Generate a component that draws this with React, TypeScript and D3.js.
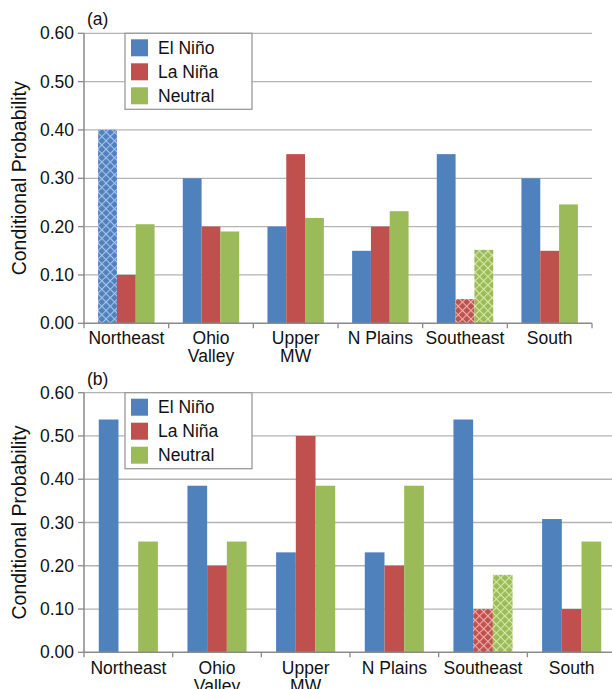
import React from "react";
import * as d3 from "d3";

const categories = ["Northeast", "Ohio Valley", "Upper MW", "N Plains", "Southeast", "South"];
const categoryLines = [["Northeast"], ["Ohio", "Valley"], ["Upper", "MW"], ["N Plains"], ["Southeast"], ["South"]];
const seriesNames = ["El Niño", "La Niña", "Neutral"];
const seriesColors = ["#4F81BD", "#C0504D", "#9BBB59"];
const seriesLight = ["#a9c2ea", "#eeb0ae", "#d6e8a8"];

const elNinoA = [0.40, 0.30, 0.20, 0.15, 0.35, 0.30];
const laNinaA = [0.10, 0.20, 0.35, 0.20, 0.05, 0.15];
const neutralA = [0.205, 0.19, 0.218, 0.232, 0.152, 0.246];
const hatchedA = [[true, false, false, false, false, false], [false, false, false, false, true, false], [false, false, false, false, true, false]];

const elNinoB = [0.538, 0.385, 0.231, 0.231, 0.538, 0.308];
const laNinaB = [0.0, 0.20, 0.50, 0.20, 0.10, 0.10];
const neutralB = [0.256, 0.256, 0.385, 0.385, 0.179, 0.256];
const hatchedB = [[false, false, false, false, false, false], [false, false, false, false, true, false], [false, false, false, false, true, false]];

const yTicks = [0, 0.1, 0.2, 0.3, 0.4, 0.5, 0.6];

type PanelProps = {
  label: string;
  series: number[][];
  hatched: boolean[][];
  x0: number;
  x1: number;
  yTop: number;
  yBottom: number;
  labelY: number;
};

const font = "'Liberation Sans', Arial, sans-serif";

function Panel({ label, series, hatched, x0, x1, yTop, yBottom, labelY }: PanelProps) {
  const y = d3.scaleLinear().domain([0, 0.6]).range([yBottom, yTop]);
  const xCat = d3.scaleBand<string>().domain(categories).range([x0, x1]).padding(0);
  const xSer = d3
    .scaleBand<string>()
    .domain(seriesNames)
    .range([0, xCat.bandwidth()])
    .paddingInner(0)
    .paddingOuter(0.75);
  return (
    <g>
      {yTicks.slice(1).map((t) => (
        <line key={"g" + t} x1={x0} x2={x1} y1={y(t)} y2={y(t)} stroke="#b4b4b4" strokeWidth={1.3} />
      ))}
      {series.map((vals, si) =>
        vals.map((v, ci) => {
          const bx = (xCat(categories[ci]) as number) + (xSer(seriesNames[si]) as number);
          const fill = hatched[si][ci] ? `url(#hatch${si})` : seriesColors[si];
          return (
            <rect
              key={`b${si}-${ci}`}
              x={bx}
              y={y(v)}
              width={xSer.bandwidth()}
              height={yBottom - y(v)}
              fill={fill}
            />
          );
        })
      )}
      <line x1={x0} x2={x0} y1={yTop} y2={yBottom} stroke="#8a8a8a" strokeWidth={1.5} />
      {yTicks.map((t) => (
        <g key={"t" + t}>
          <line x1={x0 - 6} x2={x0} y1={y(t)} y2={y(t)} stroke="#8a8a8a" strokeWidth={1.3} />
          <text x={x0 - 10} y={y(t) + 6} textAnchor="end" fontFamily={font} fontSize={17.5} fill="#111">
            {t.toFixed(2)}
          </text>
        </g>
      ))}
      <line x1={x0} x2={x1} y1={yBottom} y2={yBottom} stroke="#8a8a8a" strokeWidth={1.5} />
      {categories.map((c) => (
        <line
          key={"xt" + c}
          x1={xCat(c) as number}
          x2={xCat(c) as number}
          y1={yBottom}
          y2={yBottom + 5}
          stroke="#8a8a8a"
          strokeWidth={1.3}
        />
      ))}
      <line x1={x1} x2={x1} y1={yBottom} y2={yBottom + 5} stroke="#8a8a8a" strokeWidth={1.3} />
      {categoryLines.map((lines, i) => (
        <text
          key={"xl" + i}
          x={(xCat(categories[i]) as number) + xCat.bandwidth() / 2}
          y={labelY}
          textAnchor="middle"
          fontFamily={font}
          fontSize={17.5}
          fill="#111"
        >
          {lines.map((ln, j) => (
            <tspan key={j} x={(xCat(categories[i]) as number) + xCat.bandwidth() / 2} dy={j === 0 ? 0 : 18}>
              {ln}
            </tspan>
          ))}
        </text>
      ))}
      <text x={x0 + 3} y={yTop - 8} fontFamily={font} fontSize={17.5} fill="#111">
        {label}
      </text>
      <rect x={125} y={yTop} width={127} height={76} fill="#fff" stroke="#9a9a9a" strokeWidth={1.3} />
      {seriesNames.map((s, i) => (
        <g key={"lg" + s}>
          <rect x={131} y={yTop + 6 + i * 24} width={17} height={17} fill={seriesColors[i]} />
          <text x={158} y={yTop + 20.5 + i * 24} fontFamily={font} fontSize={17.5} fill="#111">
            {s}
          </text>
        </g>
      ))}
      <text
        transform={`translate(26, ${(yTop + yBottom) / 2}) rotate(-90)`}
        textAnchor="middle"
        fontFamily={font}
        fontSize={19.5}
        fill="#111"
      >
        Conditional Probability
      </text>
    </g>
  );
}

export default function App() {
  return (
    <svg width={612} height={689} style={{ position: "absolute", left: 0, top: 0, background: "#fff" }}>
      <defs>
        {seriesColors.map((c, i) => (
          <pattern
            key={"p" + i}
            id={`hatch${i}`}
            width={6}
            height={6}
            patternUnits="userSpaceOnUse"
            patternTransform="rotate(45)"
          >
            <rect width={6} height={6} fill={c} />
            <line x1={0} y1={0} x2={6} y2={0} stroke={seriesLight[i]} strokeWidth={2.2} />
            <line x1={0} y1={0} x2={0} y2={6} stroke={seriesLight[i]} strokeWidth={2.2} />
          </pattern>
        ))}
      </defs>
      <rect width={612} height={689} fill="#fff" />
      <Panel
        label="(a)"
        series={[elNinoA, laNinaA, neutralA]}
        hatched={hatchedA}
        x0={84}
        x1={592}
        yTop={33.3}
        yBottom={323.3}
        labelY={344}
      />
      <Panel
        label="(b)"
        series={[elNinoB, laNinaB, neutralB]}
        hatched={hatchedB}
        x0={84}
        x1={616}
        yTop={392.7}
        yBottom={652.3}
        labelY={674}
      />
    </svg>
  );
}
